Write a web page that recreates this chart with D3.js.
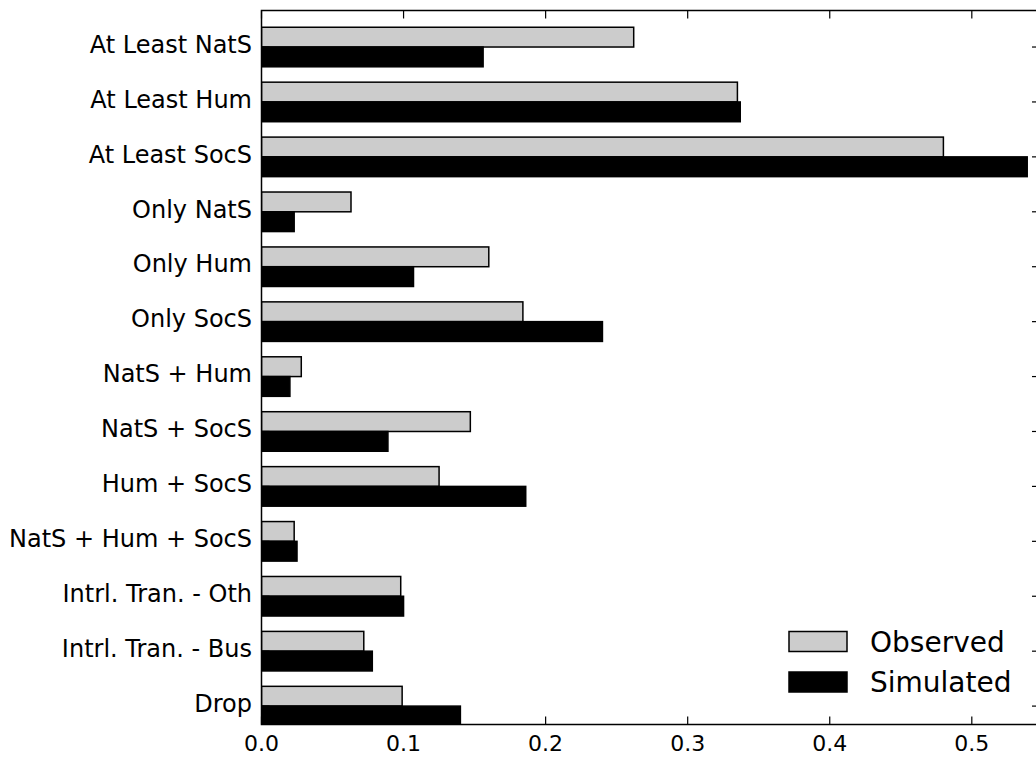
<!DOCTYPE html>
<html>
<head>
<meta charset="utf-8">
<script src="https://cdn.jsdelivr.net/npm/d3@7"></script>
<style>
  html, body { margin: 0; padding: 0; background: #fff; }
  svg { display: block; }
  text { font-family: "DejaVu Sans", sans-serif; fill: #000; }
</style>
</head>
<body>
<svg id="chart" width="1036" height="758"></svg>
<script>
// Category labels, top to bottom
const categories = [
  "At Least NatS", "At Least Hum", "At Least SocS",
  "Only NatS", "Only Hum", "Only SocS",
  "NatS + Hum", "NatS + SocS", "Hum + SocS", "NatS + Hum + SocS",
  "Intrl. Tran. - Oth", "Intrl. Tran. - Bus", "Drop"
];
// Share of trips per category
const observed  = [0.262, 0.335, 0.480, 0.063, 0.160, 0.184, 0.028, 0.147, 0.125, 0.023, 0.098, 0.072, 0.099];
const simulated = [0.156, 0.337, 0.539, 0.023, 0.107, 0.240, 0.020, 0.089, 0.186, 0.025, 0.100, 0.078, 0.140];
const seriesNames = ["Observed", "Simulated"];
const xTicks = [0.0, 0.1, 0.2, 0.3, 0.4, 0.5];

(function () {
  const svg = d3.select("#chart");
  const W = 1036, H = 758;
  svg.append("rect").attr("width", W).attr("height", H).attr("fill", "#fff");

  const pLeft = 261.5, pRight = 1040, pTop = 10.5, pBottom = 724.5;
  const x = d3.scaleLinear().domain([0, 0.548]).range([pLeft, pRight]);
  const y = d3.scaleLinear().domain([0, categories.length]).range([pTop, pBottom]);

  const obsTop = 0.305, mid = 0.665, simBot = 1.025;
  const fills = ["#cccccc", "#000000"];

  svg.append("clipPath").attr("id", "plotclip")
    .append("rect").attr("x", pLeft).attr("y", pTop)
    .attr("width", pRight - pLeft).attr("height", pBottom - pTop);

  const g = svg.append("g").attr("clip-path", "url(#plotclip)");

  // Observed bars
  g.selectAll("rect.obs").data(observed).join("rect")
    .attr("class", "obs")
    .attr("x", x(0))
    .attr("y", (d, i) => y(i + obsTop))
    .attr("width", d => x(d) - x(0))
    .attr("height", (d, i) => y(i + mid) - y(i + obsTop))
    .attr("fill", fills[0])
    .attr("stroke", "#000")
    .attr("stroke-width", 1.5);

  // Simulated bars
  g.selectAll("rect.sim").data(simulated).join("rect")
    .attr("class", "sim")
    .attr("x", x(0))
    .attr("y", (d, i) => y(i + mid))
    .attr("width", d => x(d) - x(0))
    .attr("height", (d, i) => y(i + simBot) - y(i + mid))
    .attr("fill", fills[1])
    .attr("stroke", "#000")
    .attr("stroke-width", 1.5);

  // Frame
  svg.append("rect")
    .attr("x", pLeft).attr("y", pTop)
    .attr("width", pRight - pLeft).attr("height", pBottom - pTop)
    .attr("fill", "none").attr("stroke", "#000").attr("stroke-width", 1.5);

  const tickLen = 8;
  const tickPos = categories.map((c, i) => i + mid);

  // X ticks (inward, bottom and top)
  const xt = svg.append("g");
  xTicks.forEach(t => {
    xt.append("line").attr("x1", x(t)).attr("x2", x(t)).attr("y1", pBottom).attr("y2", pBottom - tickLen)
      .attr("stroke", "#000").attr("stroke-width", 1.2);
    xt.append("line").attr("x1", x(t)).attr("x2", x(t)).attr("y1", pTop).attr("y2", pTop + tickLen)
      .attr("stroke", "#000").attr("stroke-width", 1.2);
    xt.append("text").attr("x", x(t)).attr("y", 751)
      .attr("text-anchor", "middle").attr("font-size", 22)
      .text(d3.format(".1f")(t));
  });

  // Y ticks (inward, left and right) and labels
  const yt = svg.append("g");
  tickPos.forEach((p, i) => {
    yt.append("line").attr("x1", pLeft).attr("x2", pLeft + tickLen).attr("y1", y(p)).attr("y2", y(p))
      .attr("stroke", "#000").attr("stroke-width", 1.2);
    yt.append("line").attr("x1", pRight).attr("x2", pRight - tickLen).attr("y1", y(p)).attr("y2", y(p))
      .attr("stroke", "#000").attr("stroke-width", 1.2);
    yt.append("text").attr("x", 252).attr("y", y(p)).attr("dy", "0.24em")
      .attr("text-anchor", "end").attr("font-size", 24)
      .text(categories[i]);
  });

  // Legend
  const lg = svg.append("g");
  seriesNames.forEach((name, i) => {
    const cy = 641.5 + i * 40.5;
    lg.append("rect").attr("x", 789).attr("y", cy - 10).attr("width", 58).attr("height", 20)
      .attr("fill", fills[i]).attr("stroke", "#000").attr("stroke-width", 1.5);
    lg.append("text").attr("x", 870).attr("y", cy + 10)
      .attr("font-size", 28).text(name);
  });
})();
</script>
</body>
</html>
